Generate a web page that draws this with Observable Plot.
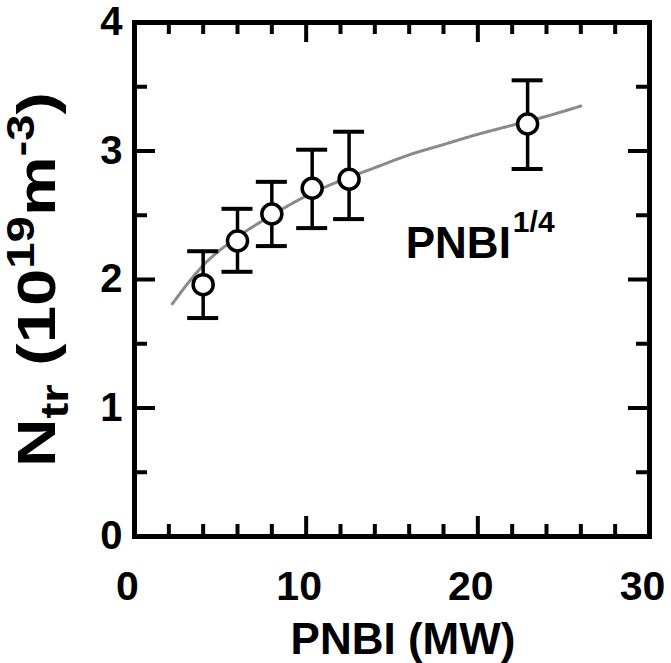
<!DOCTYPE html>
<html><head><meta charset="utf-8">
<script src="https://cdn.jsdelivr.net/npm/d3@7"></script>
<script src="https://cdn.jsdelivr.net/npm/@observablehq/plot@0.6"></script>
<style>body{margin:0;background:#fff}</style>
</head><body><div id="chart"></div>
<script>
// ---- data ----
const pnbi    = [4, 6, 8, 10.35, 12.5, 22.9];
const ntr     = [1.96, 2.30, 2.51, 2.71, 2.78, 3.21];
const ntrLow  = [1.70, 2.06, 2.26, 2.40, 2.47, 2.86];
const ntrHigh = [2.22, 2.55, 2.76, 3.01, 3.15, 3.55];
const fitPnbi = [2.2, 4, 6, 8, 10, 12, 14, 16, 18, 20, 22, 24, 26];
const fitNtr  = [1.81, 2.11, 2.33, 2.50, 2.65, 2.77, 2.87, 2.97, 3.05, 3.13, 3.20, 3.27, 3.35];
const xTicks = [0, 10, 20, 30];
const yTicks = [0, 1, 2, 3, 4];
const xMajorTicks = [10, 20];
const xMinorTicks = [2, 4, 6, 8, 12, 14, 16, 18, 22, 24, 26, 28];
const yMajorTicks = [1, 2, 3];
const yMinorTicks = [0.5, 1.5, 2.5, 3.5];
const xLabel = "PNBI (MW)";
const yLabelParts = ["N", "tr", " (10", "19", "m", "-3", ")"];
const fitLabel = "PNBI";
const fitExponent = "1/4";
const fitLabelX = [15.8];
const fitLabelY = [2.28];

// ---- layout ----
const W = 671, H = 663, mL = 134, mR = 22, mT = 22, mB = 127;
const pw = W - mL - mR, ph = H - mT - mB;
const FONT = "'Liberation Sans', Arial, Helvetica, sans-serif";

const points = pnbi.map((x, i) => ({x, y: ntr[i], lo: ntrLow[i], hi: ntrHigh[i]}));
const fit = fitPnbi.map((x, i) => ({x, y: fitNtr[i]}));

const cap = {insetLeft: -15.5, insetRight: -15.5, strokeWidth: 4, stroke: "black"};

const chart = Plot.plot({
  width: W, height: H,
  marginLeft: mL, marginRight: mR, marginTop: mT, marginBottom: mB,
  style: {fontFamily: FONT, background: "white"},
  x: {domain: [0, 30]},
  y: {domain: [0, 4]},
  marks: [
    Plot.line(fit, {x: "x", y: "y", curve: "monotone-x", stroke: "#8a8a8a", strokeWidth: 3, strokeDasharray: "2,0.7"}),
    Plot.ruleX(points, {x: "x", y1: "lo", y2: "hi", stroke: "black", strokeWidth: 3.5}),
    Plot.ruleY(points, {y: "hi", x1: "x", x2: "x", ...cap}),
    Plot.ruleY(points, {y: "lo", x1: "x", x2: "x", ...cap}),
    Plot.dot(points, {x: "x", y: "y", r: 10, fill: "white", stroke: "black", strokeWidth: 3.5}),
    // inward ticks
    Plot.ruleX(xMinorTicks, {x: d => d, insetTop: ph - 12, strokeWidth: 4}),
    Plot.ruleX(xMinorTicks, {x: d => d, insetBottom: ph - 12, strokeWidth: 4}),
    Plot.ruleX(xMajorTicks, {x: d => d, insetTop: ph - 20, strokeWidth: 4}),
    Plot.ruleX(xMajorTicks, {x: d => d, insetBottom: ph - 20, strokeWidth: 4}),
    Plot.ruleY(yMinorTicks, {y: d => d, insetRight: pw - 13, strokeWidth: 4}),
    Plot.ruleY(yMinorTicks, {y: d => d, insetLeft: pw - 13, strokeWidth: 4}),
    Plot.ruleY(yMajorTicks, {y: d => d, insetRight: pw - 21, strokeWidth: 4}),
    Plot.ruleY(yMajorTicks, {y: d => d, insetLeft: pw - 21, strokeWidth: 4}),
    Plot.frame({stroke: "black", strokeWidth: 5}),
    Plot.axisX({ticks: xTicks, tickFormat: d3.format("d"), tickSize: 0, tickPadding: 34, dx: -7, fontSize: 41, fontWeight: "bold", fontFamily: FONT, label: null}),
    Plot.axisY({ticks: yTicks, tickFormat: d3.format("d"), tickSize: 0, tickPadding: 12, fontSize: 40, fontWeight: "bold", fontFamily: FONT, label: null}),
    Plot.text([xLabel], {frameAnchor: "bottom", dy: 86, lineAnchor: "top", dx: 11, fontSize: 44, fontWeight: "bold", fontFamily: FONT}),
    Plot.text([yLabelParts.join("")], {frameAnchor: "left", textAnchor: "middle", dx: -97, rotate: -90, fontSize: 54, fontWeight: "bold", fontFamily: FONT}),
    Plot.text(fitLabelX.map((x, i) => ({x, y: fitLabelY[i]})), {x: "x", y: "y", text: () => fitLabel + fitExponent, textAnchor: "start", fontSize: 44, fontWeight: "bold", fontFamily: FONT})
  ]
});
document.getElementById("chart").appendChild(chart);

// rich text: sub/superscripts as tspans
const svg = d3.select(chart);
svg.selectAll("text").filter(function() { return this.textContent === yLabelParts.join(""); })
  .each(function() {
    const t = d3.select(this); t.text("");
    t.attr("textLength", 375).attr("lengthAdjust", "spacingAndGlyphs");
    const [a, sub, b, sup1, c, sup2, d] = yLabelParts;
    t.append("tspan").text(a);
    t.append("tspan").attr("dy", 13).attr("font-size", 38).text(sub);
    t.append("tspan").attr("dy", -13).text(b);
    t.append("tspan").attr("dy", -21).attr("font-size", 38).text(sup1);
    t.append("tspan").attr("dy", 21).text(c);
    t.append("tspan").attr("dy", -21).attr("font-size", 38).text(sup2);
    t.append("tspan").attr("dy", 21).text(d);
  });
svg.selectAll("text").filter(function() { return this.textContent === fitLabel + fitExponent; })
  .each(function() {
    const t = d3.select(this); t.text("");
    t.append("tspan").text(fitLabel);
    t.append("tspan").attr("dy", -26).attr("dx", 2).attr("font-size", 30).text(fitExponent);
  });
</script>
</body></html>
